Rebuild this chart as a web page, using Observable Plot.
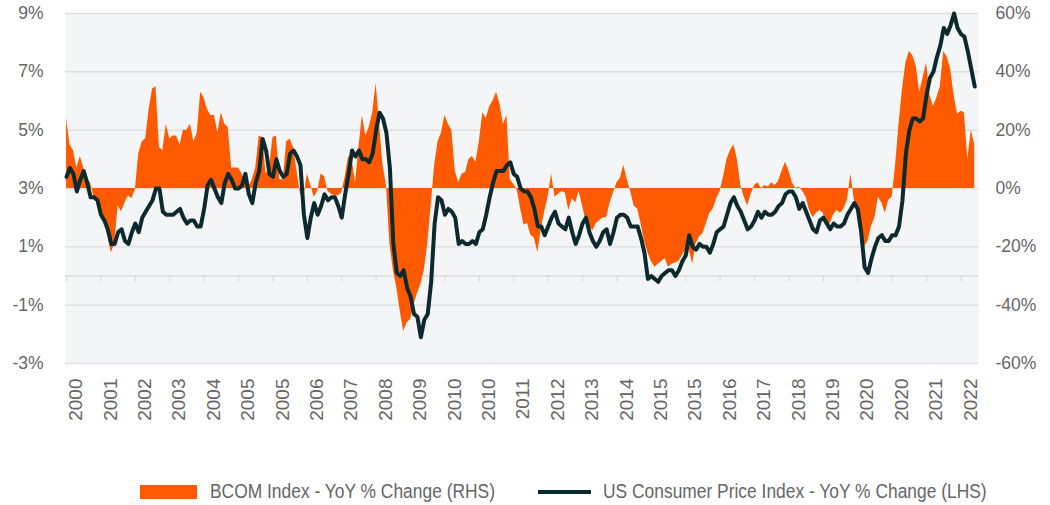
<!DOCTYPE html>
<html>
<head>
<meta charset="utf-8">
<script src="https://cdn.jsdelivr.net/npm/d3@7"></script>
<script src="https://cdn.jsdelivr.net/npm/@observablehq/plot@0.6"></script>
<style>
  body { margin: 0; background: #ffffff; }
  #chart svg { display: block; }
  #legend { position: relative; width: 1050px; height: 35px; font-family: "Liberation Sans", Arial, sans-serif; font-size: 20px; color: #666666; }
  #legend .sw-area { position: absolute; left: 140px; top: 15px; width: 57px; height: 14px; background: #ff5a00; }
  #legend .sw-line { position: absolute; left: 538px; top: 20px; width: 53px; height: 4px; background: #0c2a2e; }
  #legend .lab { position: absolute; top: 7px; line-height: 28px; white-space: nowrap; transform: scaleX(0.87); transform-origin: left center; }
</style>
</head>
<body>
<div id="chart"></div>
<div id="legend">
  <div class="sw-area"></div><div class="lab" style="left:210px">BCOM Index - YoY % Change (RHS)</div>
  <div class="sw-line"></div><div class="lab" style="left:603px">US Consumer Price Index - YoY % Change (LHS)</div>
</div>
<script>
// Monthly observations, Dec 2000 .. Dec 2022 (index 0 = Dec 2000)
const firstMonth = "2000-12";

// US CPI YoY % (left axis)
const cpi = [
  3.4,
  3.7, 3.5, 2.9, 3.3, 3.6, 3.2, 2.7, 2.7, 2.6, 2.1, 1.9, 1.6,
  1.1, 1.1, 1.5, 1.6, 1.2, 1.1, 1.5, 1.8, 1.5, 2.0, 2.2, 2.4,
  2.6, 3.0, 3.0, 2.2, 2.1, 2.1, 2.1, 2.2, 2.3, 2.0, 1.8, 1.9,
  1.9, 1.7, 1.7, 2.3, 3.1, 3.3, 3.0, 2.7, 2.5, 3.2, 3.5, 3.3,
  3.0, 3.0, 3.1, 3.5, 2.8, 2.5, 3.2, 3.6, 4.7, 4.3, 3.5, 3.4,
  4.0, 3.6, 3.4, 3.5, 4.2, 4.3, 4.1, 3.8, 2.1, 1.3, 2.0, 2.5,
  2.1, 2.4, 2.8, 2.6, 2.7, 2.7, 2.4, 2.0, 2.8, 3.5, 4.3, 4.1,
  4.3, 4.0, 4.0, 3.9, 4.2, 5.0, 5.6, 5.4, 4.9, 3.7, 1.1, 0.1,
  0.0, 0.2, -0.4, -0.7, -1.3, -1.4, -2.1, -1.5, -1.3, -0.2, 1.8, 2.7,
  2.6, 2.1, 2.3, 2.2, 2.0, 1.1, 1.2, 1.1, 1.1, 1.2, 1.1, 1.5,
  1.6, 2.1, 2.7, 3.2, 3.6, 3.6, 3.6, 3.8, 3.9, 3.5, 3.4, 3.0,
  2.9, 2.9, 2.7, 2.3, 1.7, 1.7, 1.4, 1.7, 2.0, 2.2, 1.8, 1.7,
  1.6, 2.0, 1.5, 1.1, 1.4, 1.8, 2.0, 1.5, 1.2, 1.0, 1.2, 1.5,
  1.6, 1.1, 1.5, 2.0, 2.1, 2.1, 2.0, 1.7, 1.7, 1.7, 1.3, 0.8,
  -0.1, 0.0, -0.1, -0.2, 0.0, 0.1, 0.2, 0.2, 0.0, 0.2, 0.5, 0.7,
  1.4, 1.0, 0.9, 1.1, 1.0, 1.0, 0.8, 1.1, 1.5, 1.6, 1.7, 2.1,
  2.5, 2.7, 2.4, 2.2, 1.9, 1.6, 1.7, 1.9, 2.2, 2.0, 2.2, 2.1,
  2.1, 2.2, 2.4, 2.5, 2.8, 2.9, 2.9, 2.7, 2.3, 2.5, 2.2, 1.9,
  1.6, 1.5, 1.9, 2.0, 1.8, 1.6, 1.8, 1.7, 1.7, 1.8, 2.1, 2.3,
  2.5, 2.3, 1.5, 0.3, 0.1, 0.6, 1.0, 1.3, 1.4, 1.2, 1.2, 1.4,
  1.4, 1.7, 2.6, 4.2, 5.0, 5.4, 5.4, 5.3, 5.4, 6.2, 6.8, 7.0,
  7.5, 7.9, 8.5, 8.3, 8.6, 9.0, 8.5, 8.3, 8.2, 7.7, 7.1, 6.5
];

// BCOM Index YoY % (right axis)
const bcom = [
  24,
  15, 13, 7, 11, 7, 3, 2, -3, -4, -8, -12, -16,
  -22, -19, -6, -8, -5, -2.5, -3.5, -0.5, 12, 16, 17, 27,
  34, 35, 14, 13, 22, 17, 18, 18, 15, 20, 20, 22,
  16, 19, 33, 31, 27, 25, 25, 19, 26, 22, 21, 7,
  7, 7, 5, 2.5, 0.5, 3, 7, 18, 17.5, 5, 7, 17.5,
  18, 3, 3, 16, 17, 14, 6, -2, -3, 5, 1, -3,
  -1, 5, 4, -1, -2, -2.5, -2.5, -1.5, 4, 11, 10, 2,
  14, 25, 18, 21, 26, 36, 22, 8, 1, -19, -28, -34,
  -42, -49, -46, -45, -40, -36, -33, -28, -19, -6, 8, 16,
  19, 25, 22, 20, 6, 2, 5, 5.5, 10, 11, 9, 16,
  26, 24, 28, 30, 33, 29, 22, 25, 3, 1.5, -0.5, -7,
  -12.5, -12, -16, -17, -22, -14, -8, -3, 5, -3, -2, -1,
  -1.5, -7.5, -3.5, -5, -1, -6, -11, -13, -14.5, -12, -11, -10,
  -10, -5, -1.5, 2, 3.5, 8, 3, -1, -6, -7, -12, -18,
  -22, -25, -27, -26, -25, -24, -27, -26, -25.5, -25, -23, -21,
  -21, -26, -19, -16.5, -15.5, -12, -8.5, -7, -3.5, -1, 4, 10,
  13, 15, 10, 1, -3, -6, -2, 1, 2, 0, 1, 0.5,
  2, 1, 2.5, 6, 9, 6, 2, 0, 0.5, -1, -3, -7.5,
  -10, -8.5, -7.5, -8.5, -13, -12, -9, -7.5, -8.5, -7, -4, 5,
  -4, -8, -15, -20, -18, -13, -10, -3, -5, -8.5, -4, -3,
  8, 22, 34, 43, 47, 45.5, 42, 33, 38, 43, 32, 28,
  31, 35, 47, 45, 41, 32, 25.5, 26.5, 26, 10, 20, 15
];

// Category-axis labels (one every 10 months)
const xTickLabels = ["2000","2001","2002","2003","2004","2005","2005","2006","2007","2008","2009","2010","2010","2011","2012","2013","2014","2015","2015","2016","2017","2018","2019","2020","2020","2021","2022"];
const xTickStep = 10;
const leftTicks = [-3, -1, 1, 3, 5, 7, 9];
const leftTickLabels = ["-3%", "-1%", "1%", "3%", "5%", "7%", "9%"];
const rightTickLabels = ["-60%", "-40%", "-20%", "0%", "20%", "40%", "60%"];

// right axis (BCOM) mapped onto left axis: 0% <-> 3%, 20% <-> 2%
const toLeft = v => 3 + v / 10;

const data = cpi.map((v, i) => ({ i, cpi: v, bcom: bcom[i] }));
const tickIdx = xTickLabels.map((_, k) => k * xTickStep);

const font = "Liberation Sans, Arial, sans-serif";
const grey = "#666666";

const chart = Plot.plot({
  width: 1050,
  height: 470,
  marginLeft: 65,
  marginRight: 72,
  marginTop: 13,
  marginBottom: 107,
  style: { fontFamily: font, background: "#ffffff", overflow: "visible" },
  x: { type: "linear", domain: [-0.3, 265.1], axis: null },
  y: { domain: [-3, 9], axis: null },
  marks: [
    Plot.frame({ fill: "#f4f5f7", stroke: null }),
    Plot.ruleY(leftTicks, { stroke: "#dfe0e2", strokeWidth: 1.5 }),
    Plot.ruleY([0], { stroke: "#d8d9db", strokeWidth: 1.5 }),
    Plot.ruleX(tickIdx, { y1: 0, y2: 0, insetBottom: -6, stroke: "#d8d9db", strokeWidth: 1.2 }),
    Plot.areaY(data, { x: "i", y1: () => 3, y2: d => toLeft(d.bcom), fill: "#ff5a00" }),
    Plot.lineY(data, { x: "i", y: "cpi", stroke: "#0c2a2e", strokeWidth: 4, strokeLinejoin: "round", strokeLinecap: "round" }),
    Plot.text(leftTicks, { y: d => d, frameAnchor: "left", dx: -22, textAnchor: "end", text: (d) => leftTickLabels[leftTicks.indexOf(d)], fontSize: 17.5, fill: grey, fontFamily: font }),
    Plot.text(leftTicks, { y: d => d, frameAnchor: "right", dx: 17, textAnchor: "start", text: (d) => rightTickLabels[leftTicks.indexOf(d)], fontSize: 17.5, fill: grey, fontFamily: font }),
    Plot.text(tickIdx, { x: d => d, frameAnchor: "bottom", dy: 15, dx: 9.5, rotate: -90, textAnchor: "end", lineAnchor: "middle", text: d => xTickLabels[d / xTickStep], fontSize: 19, fill: grey, fontFamily: font })
  ]
});
document.getElementById("chart").appendChild(chart);
</script>
</body>
</html>
